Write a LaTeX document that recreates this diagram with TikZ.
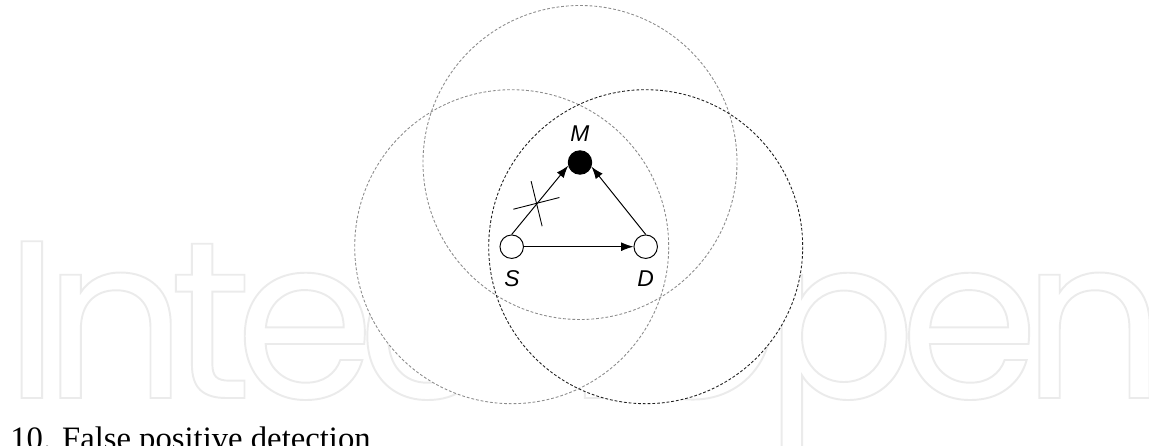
\documentclass[tikz,border=0pt]{standalone}
\usepackage{fontspec}
\setmainfont{Liberation Serif}
\setsansfont{Liberation Sans}
\newfontfamily\wmfont[LetterSpace=-7.5]{Poppins}
\usetikzlibrary{arrows.meta, positioning}
\definecolor{rangegray}{gray}{0.55}
\definecolor{rangedark}{gray}{0.12}
\definecolor{wmgray}{gray}{0.92}

\begin{document}
\begin{tikzpicture}[x=0.02cm, y=-0.02cm,
        station/.style={circle, draw, fill=white, line width=0.55pt, minimum size=0.47cm, inner sep=0pt},
        txrange/.style={dashed, dash pattern=on 1.6pt off 1.1pt, line width=0.5pt},
        link/.style={-{Latex[length=7pt,width=5pt]}, line width=0.55pt},
        tag/.style={font=\sffamily\itshape\fontsize{13}{15}\selectfont, inner sep=0pt}]

        \useasboundingbox (0,0) rectangle (1149,446);

        % Watermark in the background
        \node[anchor=base west, inner sep=0pt, text=wmgray] (wm) at (4,398)
            {\wmfont\fontsize{128}{128}\selectfont\special{pdf:literal 1 Tr 1.1 w}IntechOpen\special{pdf:literal 0 Tr}};

        % Node positions
        \coordinate (s0) at (511.7,246.7);
        \coordinate (d0) at (645.7,246.7);
        \coordinate (m0) at (580,162.5);

        % Transmission ranges (white inside)
        \fill[white] (m0) circle[radius=157] (s0) circle[radius=157] (d0) circle[radius=157];
        \draw[txrange, rangegray] (m0) circle[radius=157];
        \draw[txrange, rangegray] (s0) circle[radius=157];
        \draw[txrange, rangedark] (d0) circle[radius=157];

        % Source, destination and malicious node
        \node[station] (S) at (s0) {};
        \node[station] (D) at (d0) {};
        \node[station, fill=black] (M) at (m0) {};

        % Node labels
        \node[tag] (Mlab) at (580,134) {M};
        \node[tag] (Slab) at (512,278.5) {S};
        \node[tag] (Dlab) at (645.7,278.5) {D};

        % Links
        \draw[link] (S) -- (D);
        \draw[link] (S.north) -- coordinate[pos=0.45] (cut) (M.195);
        \draw[link] (D.north) -- (M.-20);

        % Cut mark on the S-M link
        \draw[line width=0.5pt] (cut) ++(-23.7,5.7) -- ++(46,-11.7);
        \draw[line width=0.5pt] (cut) ++(-6,-22.3) -- ++(11,45);

        % Caption
        \node[anchor=base west, inner sep=0pt, font=\fontsize{18.6}{22}\selectfont] (cap) at (10,449.5)
            {10. False positive detection};

\end{tikzpicture}
\end{document}
